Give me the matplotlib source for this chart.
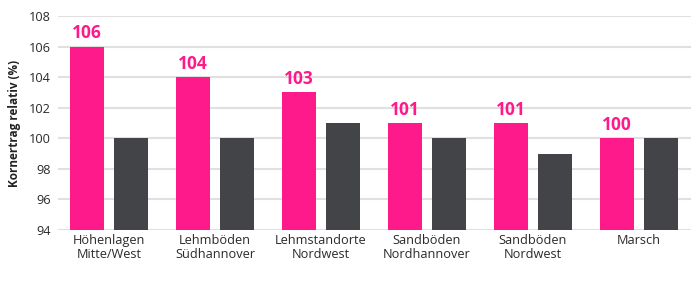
import matplotlib.pyplot as plt
import numpy as np

regionen = ["Höhenlagen\nMitte/West", "Lehmböden\nSüdhannover", "Lehmstandorte\nNordwest",
            "Sandböden\nNordhannover", "Sandböden\nNordwest", "Marsch"]
sorte = [106, 104, 103, 101, 101, 100]
vergleich = [100, 100, 101, 100, 99, 100]

pink = "#FF1A8C"
dunkel = "#434447"

plt.rcParams['font.family'] = ['Open Sans', 'DejaVu Sans']

fig = plt.figure(figsize=(6.91, 2.81), dpi=100)
ax = fig.add_axes([58 / 691, 1 - 230 / 281, 633 / 691, 214 / 281])

x = np.arange(len(regionen))
ax.bar(x - 0.208, np.array(sorte) - 94, bottom=94, width=0.32, color=pink, zorder=3)
ax.bar(x + 0.208, np.array(vergleich) - 94, bottom=94, width=0.32, color=dunkel, zorder=3)

for xi, v in zip(x, sorte):
    ax.annotate(str(v), (xi - 0.208, v), xytext=(0, 3), textcoords="offset points",
                ha="center", va="bottom", color=pink, fontsize=12.5, fontweight="bold", zorder=4)

ax.set_ylim(94, 108)
ax.set_xlim(-0.48, 5.49)
ax.set_yticks(range(94, 109, 2))
ax.set_xticks(x)
ax.set_xticklabels(regionen, fontsize=9.2, color="#2a2a2a", linespacing=1.1)
ax.tick_params(axis="y", labelsize=9.2, labelcolor="#2a2a2a", length=0, pad=5)
ax.tick_params(axis="x", length=0, pad=3)
ax.grid(axis="y", color="#E0E0E0", linewidth=1.5, zorder=0)
for s in ax.spines.values():
    s.set_visible(False)
ax.set_ylabel("Kornertrag relativ (%)", fontsize=8.5, fontweight="bold", color="#222222", labelpad=6)

fig.savefig("out.png", dpi=100)
